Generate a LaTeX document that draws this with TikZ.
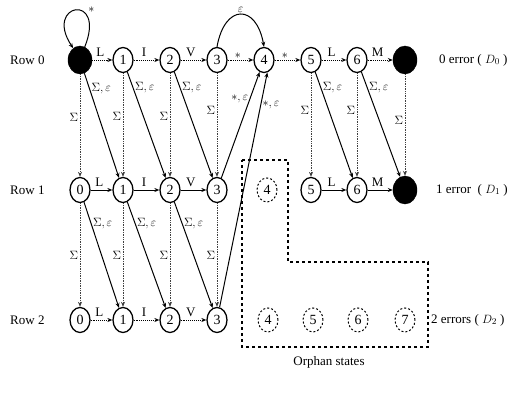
\documentclass[tikz,border=0pt]{standalone}
\usepackage{amsmath,amssymb}
\usepackage{fontspec}
\setmainfont{Liberation Serif}
\usetikzlibrary{arrows.meta, shapes.geometric}

\begin{document}
\begin{tikzpicture}[x=1pt, y=-1pt,
  font=\fontsize{13}{15}\selectfont,
  state/.style={ellipse, draw, line width=1.3pt, minimum width=20pt, minimum height=25pt, inner sep=0pt, font=\fontsize{14}{16}\selectfont},
  final/.style={ellipse, draw, fill=black, minimum width=24pt, minimum height=28pt, inner sep=0pt},
  orphan/.style={ellipse, draw, dash pattern=on 2pt off 2pt, line width=1pt, minimum width=20pt, minimum height=24pt, inner sep=0pt, font=\fontsize{14}{16}\selectfont},
  pointer/.style={-{Stealth[length=5pt,width=4pt]}},
  match/.style={pointer, densely dotted, line width=0.9pt},
  solidmatch/.style={pointer, line width=0.9pt},
  ins/.style={pointer, densely dotted, line width=0.7pt, black!75},
  del/.style={pointer, line width=1pt},
  lab/.style={font=\fontsize{13}{15}\selectfont, inner sep=1.5pt}]
  \useasboundingbox (0,0) rectangle (515,393);

  % Row 0 states
  \node[final] (a0) at (80,60) {};
  \node[state] (a1) at (123,60) {1};
  \node[state] (a2) at (170,60) {2};
  \node[state] (a3) at (217,60) {3};
  \node[state] (a4) at (264,60) {4};
  \node[state] (a5) at (311,60) {5};
  \node[state] (a6) at (357,60) {6};
  \node[final] (a7) at (405,60) {};

  % Row 1 states
  \node[state] (b0) at (80,190) {0};
  \node[state] (b1) at (123,190) {1};
  \node[state] (b2) at (170,190) {2};
  \node[state] (b3) at (217,190) {3};
  \node[orphan] (b4) at (267,190) {4};
  \node[state] (b5) at (311,190) {5};
  \node[state] (b6) at (357,190) {6};
  \node[final] (b7) at (405,190) {};

  % Row 2 states
  \node[state] (c0) at (80,320) {0};
  \node[state] (c1) at (123,320) {1};
  \node[state] (c2) at (170,320) {2};
  \node[state] (c3) at (217,320) {3};
  \node[orphan] (c4) at (268,320) {4};
  \node[orphan] (c5) at (313,320) {5};
  \node[orphan] (c6) at (358,320) {6};
  \node[orphan] (c7) at (405,320) {7};

  % Orphan box
  \draw[dash pattern=on 3pt off 3pt, line width=1.1pt] (242,160) -- (288,160) -- (288,262) -- (428,262) -- (428,347) -- (242,347) -- cycle;

  % Matches, row 0
  \draw[match] (a0) -- node[above, pos=0.4] {L} (a1);
  \draw[match] (a1) -- node[above, pos=0.4] {I} (a2);
  \draw[match] (a2) -- node[above, pos=0.4] {V} (a3);
  \draw[match] (a3) -- node[above, pos=0.4, lab] {$*$} (a4);
  \draw[match] (a4) -- node[above, pos=0.4, lab] {$*$} (a5);
  \draw[match] (a5) -- node[above, pos=0.4] {L} (a6);
  \draw[match] (a6) -- node[above, pos=0.4] {M} (a7);

  % Matches, row 1
  \draw[solidmatch] (b0) -- node[above, pos=0.4] {L} (b1);
  \draw[solidmatch] (b1) -- node[above, pos=0.4] {I} (b2);
  \draw[solidmatch] (b2) -- node[above, pos=0.4] {V} (b3);
  \draw[solidmatch] (b5) -- node[above, pos=0.4] {L} (b6);
  \draw[solidmatch] (b6) -- node[above, pos=0.4] {M} (b7);

  % Matches, row 2
  \draw[match] (c0) -- node[above, pos=0.4] {L} (c1);
  \draw[match] (c1) -- node[above, pos=0.4] {I} (c2);
  \draw[match] (c2) -- node[above, pos=0.4] {V} (c3);

  % Insertions, row 0 to row 1
  \draw[ins] (a0) -- node[left, pos=0.42, lab, black] {$\Sigma$} (b0);
  \draw[ins] (a1) -- node[left, pos=0.42, lab, black] {$\Sigma$} (b1);
  \draw[ins] (a2) -- node[left, pos=0.42, lab, black] {$\Sigma$} (b2);
  \draw[ins] (a3) -- node[left, pos=0.36, lab, black] {$\Sigma$} (b3);
  \draw[ins] (a5) -- node[left, pos=0.36, lab, black] {$\Sigma$} (b5);
  \draw[ins] (a6) -- node[left, pos=0.36, lab, black] {$\Sigma$} (b6);
  \draw[ins] (a7) -- node[left, pos=0.45, lab, black] {$\Sigma$} (b7);

  % Insertions, row 1 to row 2
  \draw[ins] (b0) -- node[left, pos=0.5, lab, black] {$\Sigma$} (c0);
  \draw[ins] (b1) -- node[left, pos=0.5, lab, black] {$\Sigma$} (c1);
  \draw[ins] (b2) -- node[left, pos=0.5, lab, black] {$\Sigma$} (c2);
  \draw[ins] (b3) -- node[left, pos=0.5, lab, black] {$\Sigma$} (c3);

  % Substitutions and deletions
  \draw[del] (a0) -- node[right, pos=0.15, lab] {$\Sigma,\varepsilon$} (b1);
  \draw[del] (a1) -- node[right, pos=0.15, lab] {$\Sigma,\varepsilon$} (b2);
  \draw[del] (a2) -- node[right, pos=0.15, lab] {$\Sigma,\varepsilon$} (b3);
  \draw[del] (a5) -- node[right, pos=0.15, lab] {$\Sigma,\varepsilon$} (b6);
  \draw[del] (a6) -- node[right, pos=0.15, lab] {$\Sigma,\varepsilon$} (b7);
  \draw[del] (b0) -- node[right, pos=0.2, lab] {$\Sigma,\varepsilon$} (c1);
  \draw[del] (b1) -- node[right, pos=0.2, lab] {$\Sigma,\varepsilon$} (c2);
  \draw[del] (b2) -- node[right, pos=0.2, lab] {$\Sigma,\varepsilon$} (c3);

  % Jumps back to row 0
  \draw[del] (b3) -- node[left, pos=0.75, lab] {$*,\varepsilon$} (a4.250);
  \draw[del] (c3) -- node[right, pos=0.86, lab] {$*,\varepsilon$} (a4.285);
  \draw[del] (a3.north) to[out=80, in=100, looseness=2.4] node[above, lab] {$\varepsilon$} (a4.north);
  \draw[del] (a0.70) .. controls +(22,-55) and +(-30,-45) .. node[above right, pos=0.3, lab] {$*$} (a0.120);

  % Row labels
  \node[anchor=west, inner sep=0pt] (row0) at (10,60) {Row 0};
  \node[anchor=west, inner sep=0pt] (row1) at (10,190) {Row 1};
  \node[anchor=west, inner sep=0pt] (row2) at (10,320) {Row 2};
  \node[anchor=west, inner sep=0pt] (err0) at (439,60) {0 error ( $D_0$ )};
  \node[anchor=west, inner sep=0pt] (err1) at (436,190) {1 error\ \ ( $D_1$ )};
  \node[anchor=west, inner sep=0pt] (err2) at (431,320) {2 errors ( $D_2$ )};
  \node (orph) at (329,362) {Orphan states};

\end{tikzpicture}
\end{document}
